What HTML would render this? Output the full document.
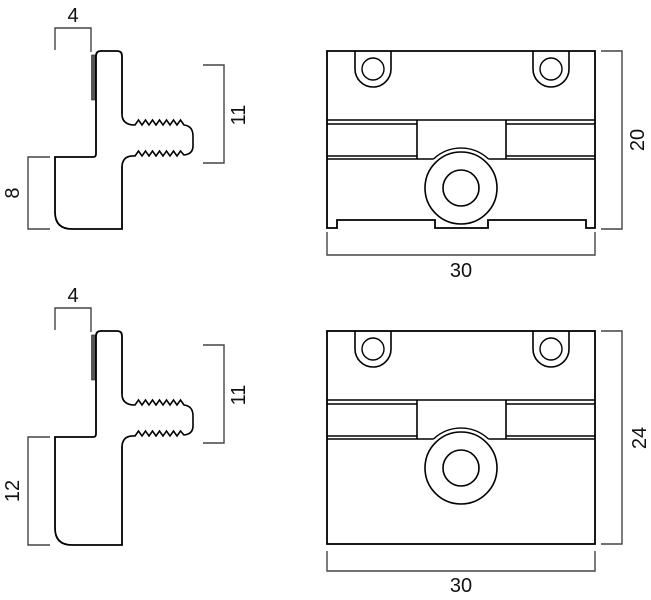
<!DOCTYPE html>
<html><head><meta charset="utf-8"><style>
html,body{margin:0;padding:0;background:#fff;}
svg{display:block;}
text{font-family:"Liberation Sans",sans-serif;font-size:20px;fill:#111;}
</style></head><body>
<svg width="651" height="600" viewBox="0 0 651 600" xmlns="http://www.w3.org/2000/svg">
<defs>
<g id="thread">
<path d="M122,114 Q122,125 135,125 L138.5,120 L142,125 L145.5,120 L149,125 L152.5,120 L156,125 L159.5,120 L163,125 L166.5,120 L170,125 L173.5,120 L177,125 L180.5,120 L184,125 Q193,126 193,136 L193,146 Q193,154 184,155 L180.5,151 L177,156 L173.5,151 L170,156 L166.5,151 L163,156 L159.5,151 L156,156 L152.5,151 L149,156 L145.5,151 L142,156 L138.5,151 L135,156 Q123,155 122,166" fill="none" stroke="#000" stroke-width="1.6"/>
</g>
<g id="boxinner">
<path d="M355,51 L355,69 A18,18 0 0 0 391,69 L391,51" fill="none" stroke="#000" stroke-width="1.6"/>
<path d="M533,51 L533,69 A18,18 0 0 0 569,69 L569,51" fill="none" stroke="#000" stroke-width="1.6"/>
<circle cx="373" cy="69" r="11" fill="none" stroke="#000" stroke-width="1.4"/>
<circle cx="551" cy="69" r="11" fill="none" stroke="#000" stroke-width="1.4"/>
<line x1="327" y1="120" x2="595" y2="120" stroke="#000" stroke-width="1.4"/>
<line x1="327" y1="124" x2="417" y2="124" stroke="#000" stroke-width="1.4"/>
<line x1="506" y1="124" x2="595" y2="124" stroke="#000" stroke-width="1.4"/>
<line x1="327" y1="156" x2="417" y2="156" stroke="#000" stroke-width="1.4"/>
<line x1="506" y1="156" x2="595" y2="156" stroke="#000" stroke-width="1.4"/>
<line x1="327" y1="159" x2="433.5" y2="159" stroke="#000" stroke-width="1.4"/>
<line x1="488.5" y1="159" x2="595" y2="159" stroke="#000" stroke-width="1.4"/>
<line x1="417" y1="120" x2="417" y2="159" stroke="#000" stroke-width="1.6"/>
<line x1="506" y1="120" x2="506" y2="159" stroke="#000" stroke-width="1.6"/>
<path d="M433.5,159 A40,40 0 0 1 488.5,159" fill="none" stroke="#000" stroke-width="1.4"/>
<circle cx="461" cy="188" r="36" fill="none" stroke="#000" stroke-width="1.6"/>
<circle cx="461" cy="188" r="18" fill="none" stroke="#000" stroke-width="1.6"/>
</g>
</defs>

<g stroke="#444" stroke-width="1.4" fill="none">
<path d="M55,50 L55,28 L91,28 L91,52"/>
<path d="M203,65 L224,65 L224,163 L203,163"/>
<path d="M50,157 L28,157 L28,229 L50,229"/>
<path d="M55,330 L55,308 L91,308 L91,332"/>
<path d="M203,345 L224,345 L224,443 L203,443"/>
<path d="M50,437 L28,437 L28,545 L50,545"/>
<path d="M601,51 L622,51 L622,229 L601,229"/>
<path d="M327,232 L327,255 L595,255 L595,232"/>
<path d="M601,331 L622,331 L622,544 L601,544"/>
<path d="M327,551 L327,571 L595,571 L595,551"/>
</g>

<rect x="91.5" y="55" width="4" height="45" fill="#555" stroke="#222" stroke-width="0.6"/>
<path d="M101,51 L117,51 Q122,51 122,56 L122,114 M122,166 L122,229 L72,229 Q55,229 55,212 L55,157 L93,157 Q96,157 96,154 L96,56 Q96,51 101,51" fill="none" stroke="#000" stroke-width="1.8"/>
<use href="#thread"/>

<g transform="translate(0,280)">
<rect x="91.5" y="55" width="4" height="45" fill="#555" stroke="#222" stroke-width="0.6"/>
<path d="M101,51 L117,51 Q122,51 122,56 L122,114 M122,166 L122,265 L72,265 Q55,265 55,248 L55,157 L93,157 Q96,157 96,154 L96,56 Q96,51 101,51" fill="none" stroke="#000" stroke-width="1.8"/>
<use href="#thread"/>
</g>

<path d="M327,51 L327,228 L337,228 L337,220 L435,220 L435,228 L488,228 L488,220 L586,220 L586,228 L595,228 L595,51 Z" fill="none" stroke="#000" stroke-width="1.8"/>
<use href="#boxinner"/>

<rect x="327" y="331" width="268" height="213" fill="none" stroke="#000" stroke-width="1.8"/>
<g transform="translate(0,280)"><use href="#boxinner"/></g>

<text x="73" y="22" text-anchor="middle">4</text>
<text x="73" y="302" text-anchor="middle">4</text>
<text transform="translate(245,115) rotate(-90)" text-anchor="middle">11</text>
<text transform="translate(245,395) rotate(-90)" text-anchor="middle">11</text>
<text transform="translate(19,193) rotate(-90)" text-anchor="middle">8</text>
<text transform="translate(19,491) rotate(-90)" text-anchor="middle">12</text>
<text transform="translate(644,140) rotate(-90)" text-anchor="middle">20</text>
<text transform="translate(646,438) rotate(-90)" text-anchor="middle">24</text>
<text x="461" y="277" text-anchor="middle">30</text>
<text x="461" y="592" text-anchor="middle">30</text>
</svg>
</body></html>
